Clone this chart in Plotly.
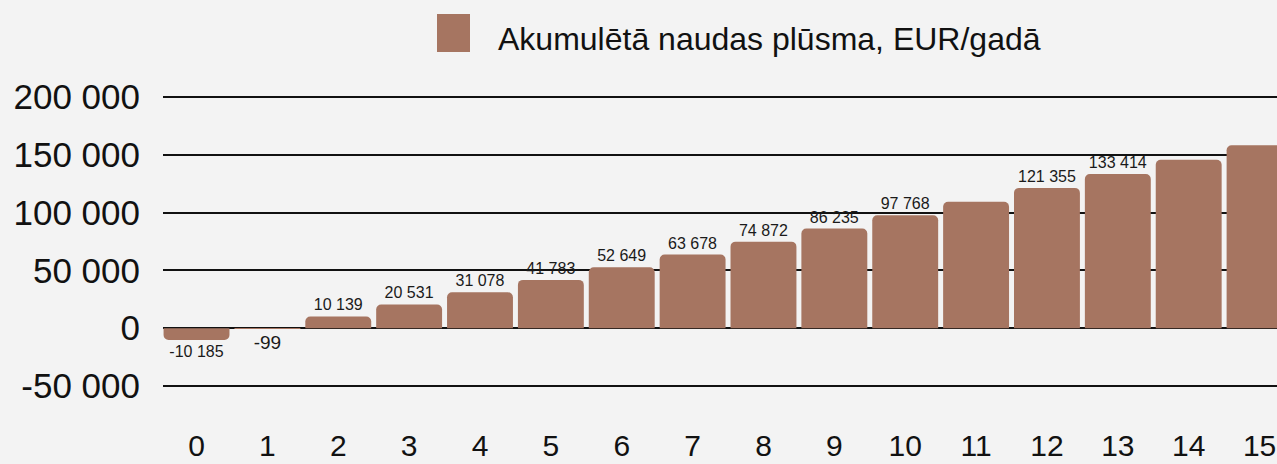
import plotly.graph_objects as go

years = [str(i) for i in range(16)]
values = [-10185, -99, 10139, 20531, 31078, 41783, 52649, 63678, 74872,
          86235, 97768, 109400, 121355, 133414, 145700, 158200]
show_label = [True] * 11 + [False, True, True, False, False]
label_sizes = [16, 19] + [16] * 14
tick_vals = [-50000, 0, 50000, 100000, 150000, 200000]
tick_text = ["-50 000", "0", "50 000", "100 000", "150 000", "200 000"]
series_name = "Akumulētā naudas plūsma, EUR/gadā"

bar_color = "#a67561"
bg = "#f3f3f3"
font_family = "Liberation Sans, Arial, sans-serif"

labels = [f"{v:,}".replace(",", " ") if s else "" for v, s in zip(values, show_label)]

W, H = 1277, 464
L, R, T, B = 163, 0, 95, 76
pw, ph = W - L - R, H - T - B
unit = 289 / 250000  # px per EUR
pad = 2 / unit

fig = go.Figure()
fig.add_trace(go.Bar(
    x=years, y=values, name=series_name,
    marker=dict(color=bar_color, cornerradius=5, line=dict(width=0)),
    width=0.93,
    text=labels, textposition="outside", constraintext="none",
    textfont=dict(size=label_sizes, color="#1a1a1a", family=font_family),
    cliponaxis=False, showlegend=False,
))

fig.update_layout(
    width=W, height=H,
    paper_bgcolor=bg, plot_bgcolor=bg,
    margin=dict(l=L, r=R, t=T, b=B, autoexpand=False),
    font=dict(family=font_family, color="#111111"),
    xaxis=dict(
        type="category", range=[-0.473, 15.246], showgrid=False, zeroline=False,
        showline=False, ticks="", tickfont=dict(size=30), ticklabelstandoff=37,
        automargin=False,
    ),
    yaxis=dict(
        range=[-50000 - pad, 200000 + pad], tickvals=tick_vals, ticktext=tick_text,
        showgrid=True, gridcolor="#111111", gridwidth=1.5,
        zeroline=True, zerolinecolor="#111111", zerolinewidth=1.5,
        showline=False, ticks="", tickfont=dict(size=35), ticklabelstandoff=22,
        automargin=False,
    ),
    shapes=[dict(type="rect", xref="paper", yref="paper",
                 x0=(437 - L) / pw, x1=(470 - L) / pw,
                 y0=(H - B - 14) / ph, y1=(H - B - 52) / ph,
                 fillcolor=bar_color, line=dict(width=0))],
    annotations=[dict(text=series_name, xref="paper", yref="paper",
                      x=(496 - L) / pw, y=(H - B - 39) / ph,
                      xanchor="left", yanchor="middle", showarrow=False,
                      font=dict(size=32, color="#111111"))],
)

fig.write_html(
    "out.html",
    config={"displayModeBar": False},
    post_script="document.body.style.margin='0';document.body.style.background='#f3f3f3';",
)
